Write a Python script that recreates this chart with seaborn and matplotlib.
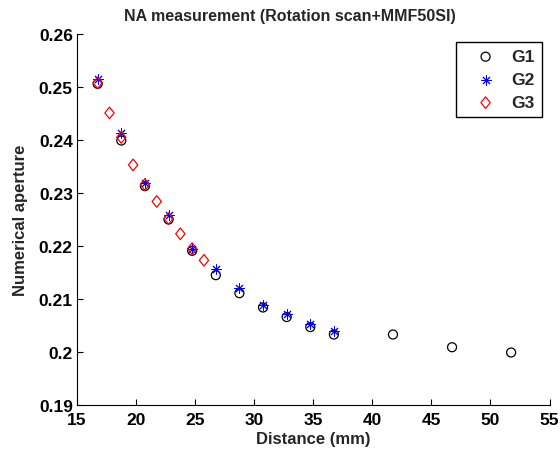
import matplotlib
matplotlib.use("Agg")
import matplotlib.pyplot as plt
import seaborn as sns
import pandas as pd
from matplotlib.path import Path

# ---- data ----
g1_x = [16.75, 18.75, 20.75, 22.75, 24.75, 26.75, 28.75, 30.75, 32.75, 34.75, 36.75, 41.75, 46.75, 51.75]
g1_y = [0.2506, 0.2399, 0.2313, 0.2250, 0.2191, 0.2145, 0.2111, 0.2084, 0.2066, 0.2047, 0.2033, 0.2033, 0.2009, 0.1999]

g2_x = [16.75, 18.75, 20.75, 22.75, 24.75, 26.75, 28.75, 30.75, 32.75, 34.75, 36.75]
g2_y = [0.2515, 0.2414, 0.2319, 0.2259, 0.2195, 0.2156, 0.2121, 0.2088, 0.2071, 0.2053, 0.2040]

g3_x = [16.75, 17.75, 18.75, 19.75, 20.75, 21.75, 22.75, 23.75, 24.75, 25.75]
g3_y = [0.2508, 0.2451, 0.2405, 0.2353, 0.2316, 0.2284, 0.2252, 0.2223, 0.2195, 0.2173]

x_ticks = [15, 20, 25, 30, 35, 40, 45, 50, 55]
y_ticks = [0.19, 0.20, 0.21, 0.22, 0.23, 0.24, 0.25, 0.26]
y_tick_labels = ["0.19", "0.2", "0.21", "0.22", "0.23", "0.24", "0.25", "0.26"]

title = "NA measurement (Rotation scan+MMF50SI)"
x_label = "Distance (mm)"
y_label = "Numerical aperture"

# ---- style ----
sns.set_style("white")
plt.rcParams["font.family"] = ["Liberation Sans", "DejaVu Sans"]
plt.rcParams["font.weight"] = "bold"

fig = plt.figure(figsize=(5.6, 4.52), dpi=100)
fig.patch.set_facecolor("white")
ax = fig.add_axes([77 / 560, 1 - 406 / 452, (549.5 - 77) / 560, (406 - 35) / 452])
ax.set_facecolor("white")

df1 = pd.DataFrame({"x": g1_x, "y": g1_y})
df2 = pd.DataFrame({"x": g2_x, "y": g2_y})
df3 = pd.DataFrame({"x": g3_x, "y": g3_y})

diamond = Path([(0, 1), (0.8, 0), (0, -1), (-0.8, 0), (0, 1)],
               [Path.MOVETO, Path.LINETO, Path.LINETO, Path.LINETO, Path.CLOSEPOLY])

sns.scatterplot(data=df1, x="x", y="y", ax=ax, marker="o", s=42,
                color="black", facecolor="none", edgecolor="black",
                linewidth=0.9, label="G1")
sns.scatterplot(data=df2, x="x", y="y", ax=ax, marker=(8, 2, 0), s=45,
                color="blue", linewidth=0.7, label="G2")
sns.scatterplot(data=df3, x="x", y="y", ax=ax, marker=diamond, s=70,
                color="red", facecolor="none", edgecolor="red",
                linewidth=0.9, label="G3")

ax.set_xlim(15, 55)
ax.set_ylim(0.19, 0.26)
ax.set_xticks(x_ticks)
ax.set_xticklabels([str(t) for t in x_ticks])
ax.set_yticks(y_ticks)
ax.set_yticklabels(y_tick_labels)

for s in ["top", "right"]:
    ax.spines[s].set_visible(False)
for s in ["left", "bottom"]:
    ax.spines[s].set_color("black")
    ax.spines[s].set_linewidth(0.8)

ax.tick_params(direction="in", length=4, width=0.8, colors="black",
               labelsize=12.5, left=True, bottom=True)
ax.tick_params(axis="x", pad=5)
ax.tick_params(axis="y", pad=3)
for lab in ax.get_xticklabels() + ax.get_yticklabels():
    lab.set_fontweight("bold")

ax.set_xlabel(x_label, fontsize=12, fontweight="bold", labelpad=3)
ax.set_ylabel(y_label, fontsize=12, fontweight="bold", labelpad=8)
ax.set_title(title, fontsize=11.5, fontweight="bold", pad=10, x=0.451)

leg = ax.legend(loc="upper right", bbox_to_anchor=(0.984, 0.978),
                borderaxespad=0, frameon=True, fancybox=False, shadow=False,
                prop={"size": 12.5, "weight": "bold"},
                handlelength=2.6, handletextpad=0.2, borderpad=0.4,
                labelspacing=0.45)
leg.get_frame().set_edgecolor("black")
leg.get_frame().set_linewidth(1.0)
leg.get_frame().set_facecolor("white")
leg.get_frame().set_alpha(1)

fig.savefig("out.png", dpi=100, facecolor="white")
